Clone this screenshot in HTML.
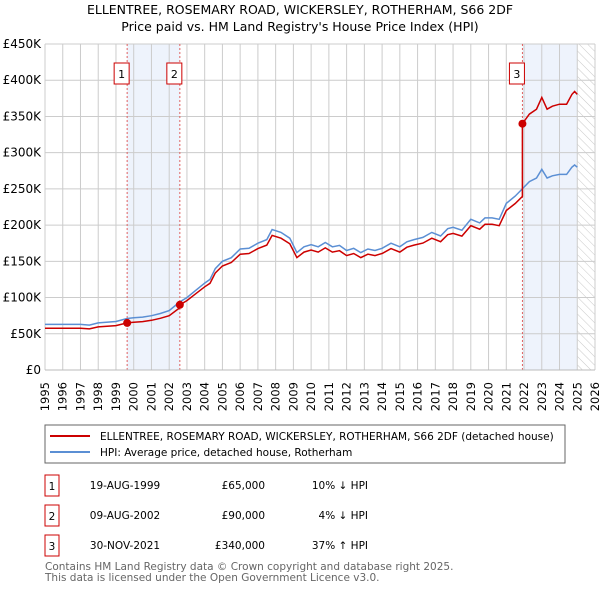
<!DOCTYPE html>
<html><head><meta charset="utf-8"><style>
body{margin:0;background:#fff;}
svg{display:block;font-family:"DejaVu Sans","Liberation Sans",sans-serif;}
</style></head><body>
<svg id="chart" width="600" height="590" viewBox="0 0 600 590" xmlns="http://www.w3.org/2000/svg">
<defs>
<pattern id="hatch" width="6" height="6" patternUnits="userSpaceOnUse" patternTransform="rotate(-45)">
<line x1="0" y1="0" x2="0" y2="6" stroke="#bbb" stroke-width="0.8"/>
</pattern>
</defs>
<text x="300" y="14" text-anchor="middle" font-size="12.5" fill="#000">ELLENTREE, ROSEMARY ROAD, WICKERSLEY, ROTHERHAM, S66 2DF</text>
<text x="300" y="31" text-anchor="middle" font-size="12.5" fill="#000">Price paid vs. HM Land Registry's House Price Index (HPI)</text>
<g id="plot"></g>
<g>
<rect x="45" y="425" width="520" height="38" fill="#fff" stroke="#666" stroke-width="1"/>
<line x1="50" y1="436" x2="90" y2="436" stroke="#cc0000" stroke-width="2"/>
<text x="100" y="440" font-size="10.5">ELLENTREE, ROSEMARY ROAD, WICKERSLEY, ROTHERHAM, S66 2DF (detached house)</text>
<line x1="50" y1="452" x2="90" y2="452" stroke="#5b8fd4" stroke-width="2"/>
<text x="100" y="456" font-size="10.5">HPI: Average price, detached house, Rotherham</text>
</g>
<g font-size="10.5">
<rect x="45" y="475" width="14" height="21" fill="#fff" stroke="#cc0000"/><text x="52" y="490" text-anchor="middle">1</text>
<text x="125" y="489" text-anchor="middle">19-AUG-1999</text><text x="265" y="489" text-anchor="end">£65,000</text><text x="368" y="489" text-anchor="end">10% ↓ HPI</text>
<rect x="45" y="505" width="14" height="21" fill="#fff" stroke="#cc0000"/><text x="52" y="520" text-anchor="middle">2</text>
<text x="125" y="519" text-anchor="middle">09-AUG-2002</text><text x="265" y="519" text-anchor="end">£90,000</text><text x="368" y="519" text-anchor="end">4% ↓ HPI</text>
<rect x="45" y="535" width="14" height="21" fill="#fff" stroke="#cc0000"/><text x="52" y="550" text-anchor="middle">3</text>
<text x="125" y="549" text-anchor="middle">30-NOV-2021</text><text x="265" y="549" text-anchor="end">£340,000</text><text x="368" y="549" text-anchor="end">37% ↑ HPI</text>
</g>
<text x="45" y="570" font-size="10.5" fill="#666">Contains HM Land Registry data © Crown copyright and database right 2025.</text>
<text x="45" y="581" font-size="10.5" fill="#666">This data is licensed under the Open Government Licence v3.0.</text>
</svg>
<script>
const yTicks=[0,50,100,150,200,250,300,350,400,450];
const xYears=[1995,1996,1997,1998,1999,2000,2001,2002,2003,2004,2005,2006,2007,2008,2009,2010,2011,2012,2013,2014,2015,2016,2017,2018,2019,2020,2021,2022,2023,2024,2025,2026];
const hpiT=[1995,1996,1997,1997.5,1998,1999,1999.6,2000,2000.5,2001,2001.5,2002,2002.6,2003,2003.5,2004,2004.3,2004.6,2005,2005.5,2006,2006.5,2007,2007.5,2007.8,2008.3,2008.8,2009.2,2009.6,2010,2010.4,2010.8,2011.2,2011.6,2012,2012.4,2012.8,2013.2,2013.6,2014,2014.5,2015,2015.4,2015.8,2016.3,2016.8,2017.3,2017.7,2018,2018.5,2019,2019.5,2019.8,2020.2,2020.6,2021,2021.5,2021.9,2022.3,2022.7,2023,2023.3,2023.6,2024,2024.4,2024.7,2024.85,2025];
const hpiV=[63,63,63,62,65,67,71,72,73,75,78,82,94,100,110,120,125,140,150,155,167,168,175,180,194,190,182,162,170,173,170,176,170,172,165,168,162,167,165,168,175,170,177,180,183,190,185,195,197,193,208,203,210,210,208,230,240,250,260,265,277,265,268,270,270,280,283,280];
const sales=[{t:1999.63,v:65,n:'1'},{t:2002.6,v:90,n:'2'},{t:2021.91,v:340,n:'3'}];
const X0=45,X1=595,Y0=370,Y1=44;
const xs=t=>X0+(t-1995)*(X1-X0)/31;
const ys=v=>Y0-v*(Y0-Y1)/450;
const NS='http://www.w3.org/2000/svg';
const g=document.getElementById('plot');
function mk(tag,attrs,parent){const e=document.createElementNS(NS,tag);for(const k in attrs)e.setAttribute(k,attrs[k]);(parent||g).appendChild(e);return e;}
function hpiAt(t){for(let i=1;i<hpiT.length;i++){if(t<=hpiT[i]){const f=(t-hpiT[i-1])/(hpiT[i]-hpiT[i-1]);return hpiV[i-1]+f*(hpiV[i]-hpiV[i-1]);}}return hpiV[hpiV.length-1];}
// shading
let r=mk('rect',{x:xs(sales[0].t),y:Y1,width:xs(sales[1].t)-xs(sales[0].t),height:Y0-Y1,fill:'#eef3fc'});

r=mk('rect',{x:xs(sales[2].t),y:Y1,width:xs(2025)-xs(sales[2].t),height:Y0-Y1,fill:'#eef3fc'});

r=mk('rect',{x:xs(2025),y:Y1,width:X1-xs(2025),height:Y0-Y1,fill:'url(#hatch)'});

// grid
yTicks.forEach(v=>{const l=mk('line',{x1:X0,x2:X1,y1:ys(v),y2:ys(v),stroke:'#ccc','stroke-width':1});

const t=mk('text',{x:X0-4,y:ys(v)+4,'text-anchor':'end','font-size':12});t.textContent=v===0?'£0':'£'+v+'K';
});
xYears.forEach(yr=>{const l=mk('line',{x1:xs(yr),x2:xs(yr),y1:Y1,y2:Y0,stroke:'#ccc','stroke-width':1});

const t=mk('text',{x:0,y:0,'text-anchor':'end','font-size':11.5,transform:`translate(${xs(yr)+4},${Y0+12}) rotate(-90)`});t.textContent=yr;
});
// sale lines
sales.forEach(s=>{const l=mk('line',{x1:xs(s.t),x2:xs(s.t),y1:Y1,y2:Y0,stroke:'#e06060','stroke-width':1,'stroke-dasharray':'2,2'});
});
// hpi line
let p=hpiT.map((t,i)=>xs(t).toFixed(1)+','+ys(hpiV[i]).toFixed(1)).join(' ');
let hl=mk('polyline',{points:p,fill:'none',stroke:'#5b8fd4','stroke-width':1.5});

// property line: hpi scaled by most recent sale ratio
const pts=[];
const ratio=s=>s.v/hpiAt(s.t);
const r0=ratio(sales[0]);
hpiT.forEach((t,i)=>{let k=r0;for(const s of sales){if(t>=s.t)k=ratio(s);}
for(const s of sales){const prev=pts.length?pts[pts.length-1]:null;}
pts.push([t,hpiV[i]*k]);});
// insert sale step points
const all=[];
let si=0;
hpiT.forEach((t,i)=>{while(si<sales.length&&sales[si].t<=t){const s=sales[si];const kPrev=si===0?r0:ratio(sales[si-1]);all.push([s.t,hpiAt(s.t)*kPrev]);all.push([s.t,s.v]);si++;}all.push(pts[i]);});
p=all.map(a=>xs(a[0]).toFixed(1)+','+ys(a[1]).toFixed(1)).join(' ');
let pl=mk('polyline',{points:p,fill:'none',stroke:'#cc0000','stroke-width':1.5});

// axis frame bottom/left
let ax=mk('line',{x1:X0,x2:X1,y1:Y0,y2:Y0,stroke:'#bbb'});
sales.forEach(s=>{const c=mk('circle',{cx:xs(s.t),cy:ys(s.v),r:4,fill:'#cc0000'});

const b=mk('rect',{x:xs(s.t)-13,y:63,width:15,height:21,fill:'#fff',stroke:'#cc0000'});

const t=mk('text',{x:xs(s.t)-5.5,y:78,'text-anchor':'middle','font-size':11});t.textContent=s.n;
});
</script>
</body></html>
